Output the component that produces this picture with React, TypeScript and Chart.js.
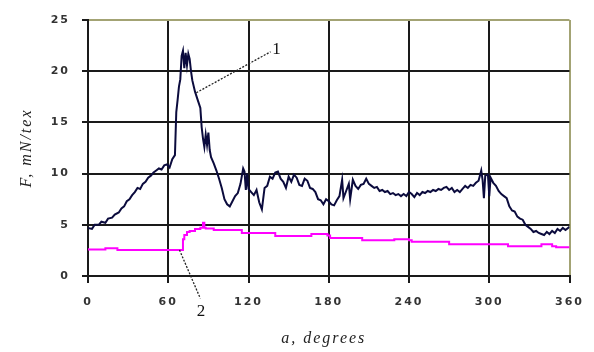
import React, { useEffect, useRef } from "react";
import { Chart, registerables } from "chart.js";

Chart.register(...registerables);

// Curve 1: angle (degrees) and force (mN/tex)
const angles1 = [0, 3, 5, 8, 10, 13, 15, 18, 20, 23, 25, 27, 29, 31, 33, 35, 37, 39, 41, 43, 45, 47, 49, 51, 53, 55, 57, 59, 61, 63, 65, 66, 67, 68, 69, 70, 71, 72, 73, 74, 75, 76, 77, 78, 80, 82, 84, 85, 86, 87, 88, 89, 90, 91, 92, 94, 96, 98, 100, 102, 104, 106, 108, 110, 112, 114, 116, 117, 118, 119, 120, 122, 124, 126, 128, 130, 132, 134, 136, 138, 140, 142, 144, 146, 148, 150, 152, 154, 156, 158, 160, 162, 164, 166, 168, 170, 172, 174, 176, 178, 180, 182, 184, 186, 188, 190, 191, 193, 195, 196, 198, 200, 202, 204, 206, 208, 210, 212, 214, 216, 218, 220, 222, 224, 226, 228, 230, 232, 234, 236, 238, 240, 242, 244, 246, 248, 250, 252, 254, 256, 258, 260, 262, 264, 266, 268, 270, 272, 274, 276, 278, 280, 282, 284, 286, 288, 290, 292, 294, 295, 296, 297, 299, 300, 301, 303, 305, 307, 309, 311, 313, 315, 317, 319, 321, 323, 325, 327, 329, 331, 333, 335, 337, 339, 341, 343, 345, 347, 349, 351, 353, 355, 357, 360];
const force1 = [4.7, 4.6, 5.0, 5.0, 5.3, 5.2, 5.6, 5.7, 6.0, 6.2, 6.6, 6.8, 7.3, 7.5, 7.9, 8.2, 8.6, 8.5, 9.0, 9.2, 9.6, 9.8, 10.1, 10.3, 10.5, 10.4, 10.8, 10.9, 10.6, 11.4, 11.8, 16.0, 17.2, 18.5, 19.2, 21.5, 22.0, 20.3, 21.8, 20.6, 21.7, 21.2, 20.0, 19.1, 18.0, 17.2, 16.4, 14.5, 13.4, 12.6, 13.8, 12.8, 14.0, 12.3, 11.6, 11.0, 10.3, 9.5, 8.6, 7.5, 7.0, 6.8, 7.3, 7.8, 8.1, 9.0, 10.5, 10.2, 8.4, 10.0, 8.5, 8.2, 7.9, 8.4, 7.2, 6.5, 8.6, 8.8, 9.7, 9.5, 10.1, 10.2, 9.5, 9.2, 8.6, 9.7, 9.2, 9.9, 9.6, 8.9, 8.8, 9.5, 9.3, 8.6, 8.5, 8.2, 7.5, 7.4, 7.0, 7.5, 7.3, 7.0, 6.9, 7.4, 7.8, 9.4, 7.6, 8.3, 9.0, 7.5, 9.4, 8.8, 8.5, 8.9, 9.0, 9.5, 9.0, 8.8, 8.6, 8.7, 8.3, 8.4, 8.2, 8.3, 8.0, 8.1, 7.9, 8.0, 7.8, 8.0, 7.8, 8.2, 8.0, 7.7, 8.1, 7.9, 8.2, 8.1, 8.3, 8.2, 8.4, 8.3, 8.5, 8.4, 8.6, 8.7, 8.4, 8.6, 8.2, 8.4, 8.2, 8.5, 8.8, 8.6, 8.9, 8.8, 9.1, 9.3, 10.3, 9.4, 7.6, 9.8, 9.9, 7.8, 9.6, 9.1, 8.8, 8.3, 8.0, 7.8, 7.6, 6.8, 6.4, 6.3, 5.8, 5.6, 5.5, 5.0, 4.8, 4.6, 4.3, 4.4, 4.2, 4.1, 4.0, 4.3, 4.1, 4.4, 4.2, 4.6, 4.4, 4.7, 4.5, 4.8];

// Curve 2
const angles2 = [0, 13, 22, 29.5, 71, 72, 74, 76, 80, 84, 86, 87, 88, 94, 115, 140, 167, 179, 181, 205, 229, 240, 242, 270, 314, 339, 347, 350, 360];
const force2 = [2.7, 2.6, 2.7, 2.55, 2.55, 3.6, 4.0, 4.3, 4.4, 4.6, 4.7, 5.2, 4.7, 4.65, 4.5, 4.2, 3.9, 4.1, 3.95, 3.7, 3.5, 3.6, 3.5, 3.35, 3.1, 2.9, 3.1, 2.9, 2.8];

const xTicks = [0, 60, 120, 180, 240, 300, 360];
const yTicks = [0, 5, 10, 15, 20, 25];

const xTitle = "a, degrees";
const yTitle = "F, mN/tex";

// Callouts: label, line start (x,y), line end (x,y), label position (x,y)
const callout1 = { label: "1", from: [81, 17.9], to: [136.5, 21.9], at: [141, 22.1] };
const callout2 = { label: "2", from: [68.4, 2.54], to: [84, -2.2], at: [84.4, -3.5] };

const OLIVE = "#a3a374";
const GRID = "#1a1a1a";

export default function App() {
  const ref = useRef<HTMLCanvasElement>(null);

  useEffect(() => {
    const canvas = ref.current!;
    const overlay = {
      id: "overlay",
      beforeDraw(chart: any) {
        (chart.ctx as any).letterSpacing = "2px";
      },
      afterDraw(chart: any) {
        const ctx = chart.ctx;
        const xs = chart.scales.x;
        const ys = chart.scales.y;
        const area = chart.chartArea;
        ctx.save();
        ctx.strokeStyle = "#222";
        ctx.lineWidth = 1.3;
        ctx.setLineDash([2, 1.5]);
        for (const c of [callout1, callout2]) {
          ctx.beginPath();
          ctx.moveTo(xs.getPixelForValue(c.from[0]), ys.getPixelForValue(c.from[1]));
          ctx.lineTo(xs.getPixelForValue(c.to[0]), ys.getPixelForValue(c.to[1]));
          ctx.stroke();
        }
        ctx.setLineDash([]);
        (ctx as any).letterSpacing = "0px";
        ctx.fillStyle = "#111";
        ctx.font = "17px 'Liberation Serif'";
        ctx.textAlign = "center";
        ctx.textBaseline = "middle";
        for (const c of [callout1, callout2]) {
          ctx.fillText(c.label, xs.getPixelForValue(c.at[0]), ys.getPixelForValue(c.at[1]));
        }
        (ctx as any).letterSpacing = "2px";
        ctx.font = "italic 16px 'Liberation Serif'";
        ctx.fillStyle = "#222";
        ctx.textBaseline = "alphabetic";
        ctx.fillText(xTitle, (area.left + area.right) / 2 - 5, area.bottom + 67);
        ctx.translate(31, (area.top + area.bottom) / 2);
        ctx.rotate(-Math.PI / 2);
        ctx.fillText(yTitle, 0, 0);
        ctx.restore();
      },
    };

    const chart = new Chart(canvas, {
      type: "line",
      data: {
        datasets: [
          {
            data: angles1.map((a, i) => ({ x: a, y: force1[i] })),
            borderColor: "#0b0b3d",
            borderWidth: 2,
            pointRadius: 0,
            tension: 0,
          },
          {
            data: angles2.map((a, i) => ({ x: a, y: force2[i] })),
            borderColor: "#ff00ff",
            borderWidth: 2,
            pointRadius: 0,
            stepped: "after",
          },
        ],
      },
      options: {
        responsive: false,
        animation: false,
        layout: { padding: { left: 0, right: 22, top: 20, bottom: 0 } },
        plugins: { legend: { display: false }, tooltip: { enabled: false } },
        scales: {
          x: {
            type: "linear",
            min: 0,
            max: 360,
            afterFit: (s: any) => {
              s.height = 76;
            },
            afterBuildTicks: (s: any) => {
              s.ticks = xTicks.map((v) => ({ value: v }));
            },
            ticks: {
              color: "#333",
              font: { family: "'DejaVu Sans'", size: 11, weight: "bold" },
              padding: 13,
              maxRotation: 0,
              callback: (v: any) => String(v),
            },
            grid: {
              color: (c: any) => (c.tick && c.tick.value === 360 ? OLIVE : GRID),
              lineWidth: 2,
              tickLength: 7,
              tickColor: GRID,
            },
            border: { color: GRID, width: 2 },
          },
          y: {
            min: 0,
            max: 25,
            afterFit: (s: any) => {
              s.width = 88;
            },
            afterBuildTicks: (s: any) => {
              s.ticks = yTicks.map((v) => ({ value: v }));
            },
            ticks: {
              color: "#333",
              font: { family: "'DejaVu Sans'", size: 11, weight: "bold" },
              padding: 12,
              callback: (v: any) => String(v),
            },
            grid: {
              color: (c: any) => (c.tick && c.tick.value === 25 ? OLIVE : GRID),
              lineWidth: 2,
              tickLength: 6,
              tickColor: GRID,
            },
            border: { color: GRID, width: 2 },
          },
        },
      },
      plugins: [overlay],
    } as any);
    return () => chart.destroy();
  }, []);

  return (
    <div style={{ position: "absolute", left: 0, top: 0, width: 594, height: 352, background: "#fff" }}>
      <canvas ref={ref} width={594} height={352} />
    </div>
  );
}
